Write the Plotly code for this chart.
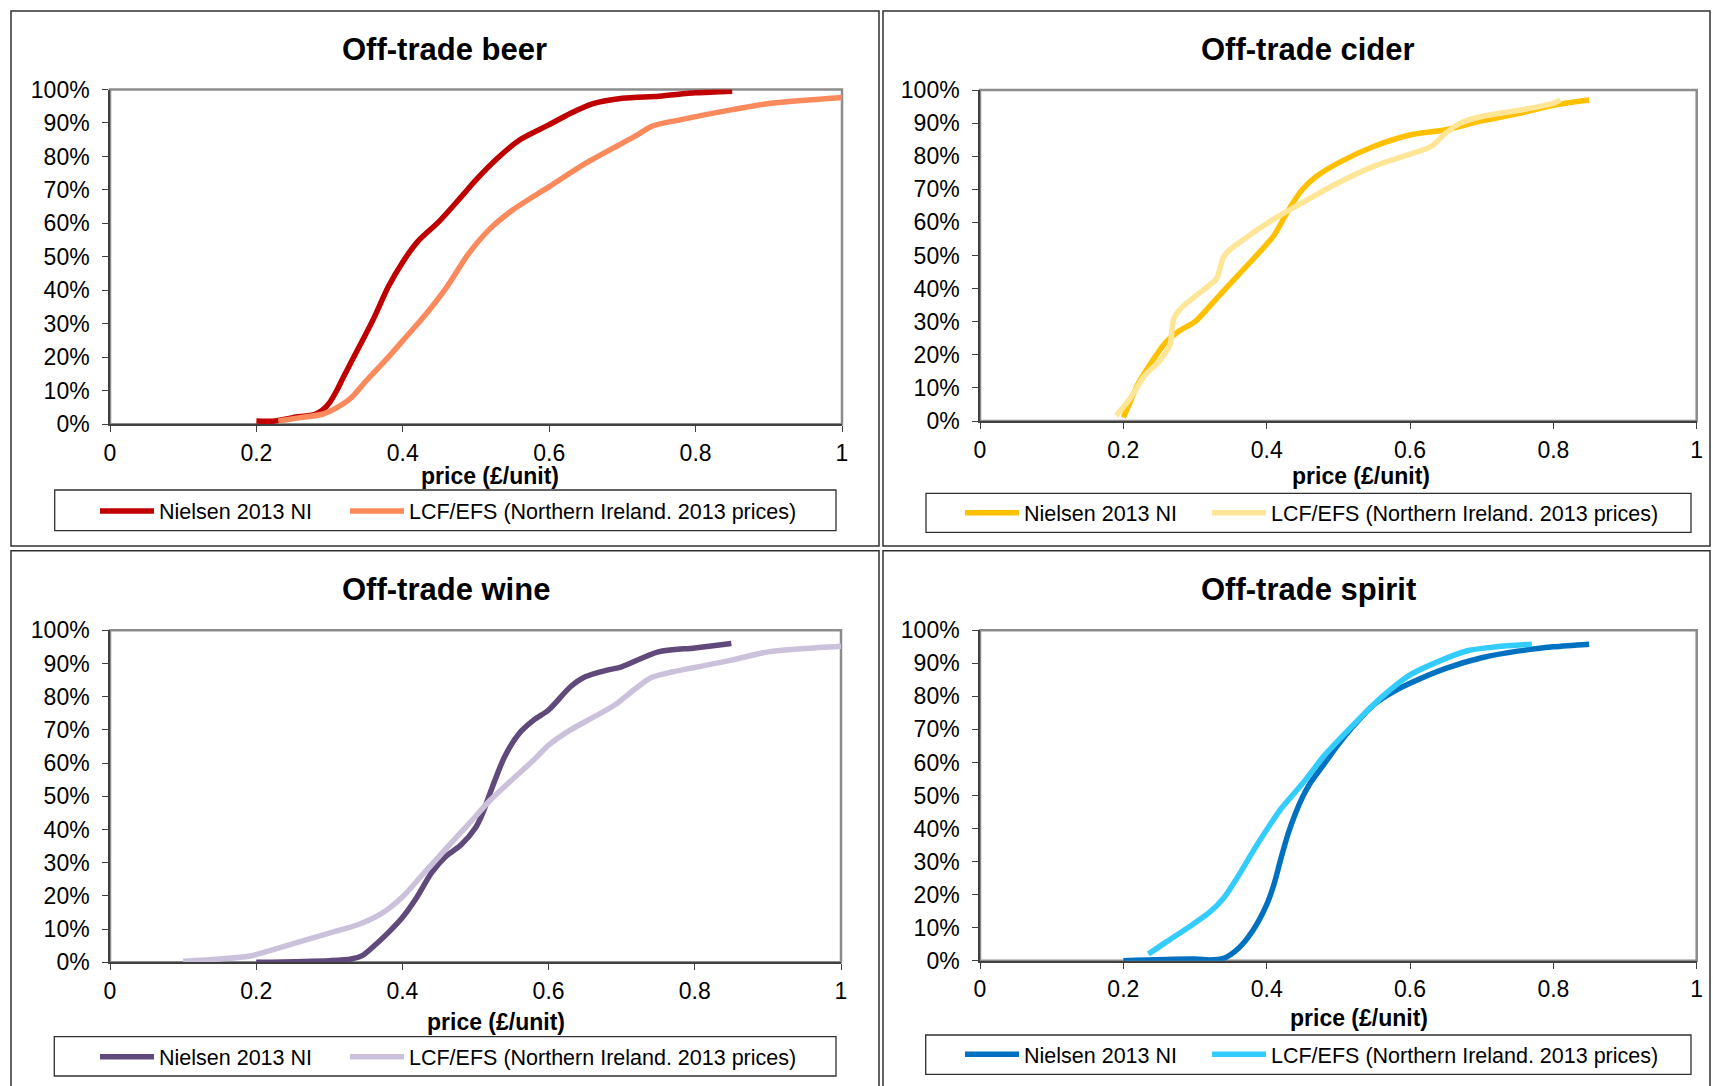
import plotly.graph_objects as go

W, H = 1713, 1086
FONT = "Liberation Sans, Arial, sans-serif"

# ---------------- data ----------------
series_names = ["Nielsen 2013 NI", "LCF/EFS (Northern Ireland. 2013 prices)"]
panel_titles = ["Off-trade beer", "Off-trade cider", "Off-trade wine", "Off-trade spirit"]
x_tick_vals = [0, 0.2, 0.4, 0.6, 0.8, 1]
x_tick_text = ["0", "0.2", "0.4", "0.6", "0.8", "1"]
x_axis_title = "price (£/unit)"

beer_nielsen_x = [0.20, 0.225, 0.25, 0.28, 0.29, 0.30, 0.31, 0.32, 0.34, 0.36, 0.38, 0.40, 0.42, 0.45, 0.48, 0.50, 0.53, 0.56, 0.60, 0.63, 0.66, 0.70, 0.75, 0.80, 0.85]
beer_nielsen_y = [1, 1, 2, 3, 4.2, 6.5, 10.2, 14.6, 23, 31.5, 41, 48.5, 54.5, 60.7, 68, 73, 79.6, 85, 89.5, 93, 95.8, 97.4, 98, 99, 99.5]
beer_lcf_x = [0.23, 0.26, 0.29, 0.31, 0.33, 0.35, 0.38, 0.40, 0.43, 0.46, 0.49, 0.52, 0.55, 0.60, 0.65, 0.70, 0.72, 0.74, 0.78, 0.85, 0.90, 1.0]
beer_lcf_y = [1, 2, 3, 5, 8, 13, 20, 25, 32.5, 41, 51, 58.6, 64, 71, 78, 84, 86.4, 89, 91, 94, 95.8, 97.6]

cider_nielsen_x = [0.20, 0.21, 0.22, 0.24, 0.26, 0.28, 0.30, 0.33, 0.36, 0.39, 0.41, 0.43, 0.45, 0.47, 0.50, 0.55, 0.60, 0.65, 0.70, 0.75, 0.80, 0.85]
cider_nielsen_y = [1, 6, 11, 18, 24, 27.5, 30, 37, 44, 51, 56, 63.6, 70, 74, 78, 83, 86.4, 88, 90.7, 92.8, 95.4, 97]
cider_lcf_x = [0.19, 0.21, 0.23, 0.25, 0.265, 0.27, 0.28, 0.30, 0.32, 0.33, 0.34, 0.35, 0.38, 0.41, 0.45, 0.50, 0.55, 0.60, 0.63, 0.65, 0.67, 0.70, 0.75, 0.80, 0.81]
cider_lcf_y = [1.6, 7, 13.8, 18, 23, 30.7, 34, 37.6, 41, 43, 49.6, 52, 56.7, 61, 66, 72, 77, 80.6, 83, 87, 90, 92, 93.8, 96, 97]

wine_nielsen_x = [0.20, 0.30, 0.33, 0.345, 0.36, 0.38, 0.40, 0.42, 0.44, 0.46, 0.48, 0.50, 0.51, 0.52, 0.54, 0.56, 0.58, 0.60, 0.63, 0.65, 0.68, 0.70, 0.75, 0.80, 0.85]
wine_nielsen_y = [0, 0.5, 1, 2, 4.7, 8.8, 13.5, 19.7, 27, 32, 35.3, 40.5, 45, 51, 62, 69, 73, 76, 83, 86, 88, 89, 93.5, 94.7, 96]
wine_lcf_x = [0.10, 0.15, 0.19, 0.22, 0.26, 0.30, 0.34, 0.37, 0.40, 0.43, 0.46, 0.49, 0.52, 0.55, 0.58, 0.60, 0.63, 0.66, 0.69, 0.72, 0.74, 0.77, 0.80, 0.85, 0.90, 0.95, 1.0]
wine_lcf_y = [0.3, 1, 1.8, 3.6, 6.2, 8.8, 11.4, 14.5, 19.7, 27, 34.3, 41.5, 48.8, 55, 61, 65.4, 70, 73.7, 77.4, 82.6, 85.7, 87.5, 88.8, 91, 93.5, 94.5, 95.2]

spirit_nielsen_x = [0.20, 0.30, 0.32, 0.34, 0.36, 0.38, 0.40, 0.41, 0.42, 0.43, 0.44, 0.45, 0.46, 0.48, 0.50, 0.52, 0.55, 0.58, 0.60, 0.65, 0.70, 0.75, 0.80, 0.85]
spirit_nielsen_y = [0, 0.5, 0.2, 0.7, 3.6, 8.9, 17, 23, 31, 38.5, 44.5, 49.5, 53.5, 59.5, 65.5, 70.8, 77.6, 81.8, 84, 88.5, 91.7, 93.7, 95, 95.8]
spirit_lcf_x = [0.235, 0.26, 0.29, 0.32, 0.34, 0.36, 0.38, 0.40, 0.42, 0.45, 0.48, 0.50, 0.53, 0.56, 0.60, 0.64, 0.68, 0.72, 0.77]
spirit_lcf_y = [2, 5.7, 10, 14.6, 19, 25.5, 32.8, 39.6, 46, 53.6, 62, 66.7, 73.4, 79.7, 86.5, 90.6, 93.8, 95, 95.8]

panel_data = [
    ((beer_nielsen_x, beer_nielsen_y), (beer_lcf_x, beer_lcf_y)),
    ((cider_nielsen_x, cider_nielsen_y), (cider_lcf_x, cider_lcf_y)),
    ((wine_nielsen_x, wine_nielsen_y), (wine_lcf_x, wine_lcf_y)),
    ((spirit_nielsen_x, spirit_nielsen_y), (spirit_lcf_x, spirit_lcf_y)),
]
panel_colors = [
    ("#C00000", "#FA8A5C"),
    ("#FFC000", "#FFE596"),
    ("#604A7B", "#CCC1DA"),
    ("#0070C0", "#33CCFF"),
]

# ---------------- layout geometry (page pixels) ----------------
def px(x):
    return x / W

def py(y):
    return 1 - y / H

# plot areas: (left, right, top, bottom)
plot_boxes = [
    (110, 842, 89.5, 424.3),
    (980, 1696.7, 90, 421),
    (110, 841, 630.3, 962.3),
    (980, 1696.7, 630.3, 960.7),
]
panel_boxes = [
    (11, 879, 11, 546),
    (883, 1710, 11, 546),
    (11, 879, 550.7, 1092),
    (883, 1710, 550.7, 1092),
]
legend_boxes = [
    (54.7, 836, 490, 530.7),
    (926, 1691, 493.3, 532.3),
    (54.3, 836, 1036.7, 1076),
    (925.7, 1691, 1035, 1074.3),
]
legend_item = [  # (first sample line start x, centre y, first entry width)
    (100, 511, 181),
    (965, 512.7, 178),
    (100, 1056.7, 181),
    (965, 1054.3, 178),
]
title_pos = [(444.5, 50), (1308, 50), (446, 590), (1308, 590)]
xtitle_pos = [(490, 476), (1361, 476), (496, 1022), (1359, 1018)]

fig = go.Figure()
layout = dict(
    width=W, height=H,
    margin=dict(l=0, r=0, t=0, b=0, autoexpand=False),
    paper_bgcolor="white", plot_bgcolor="white",
    font=dict(family=FONT, color="black"),
    showlegend=True,
)
shapes = []
annotations = []

for i in range(4):
    sfx = "" if i == 0 else str(i + 1)
    l, r, t, b = plot_boxes[i]
    xa = dict(
        domain=[px(l), px(r)], range=[0, 1], anchor="y" + sfx,
        tickvals=x_tick_vals, ticktext=x_tick_text,
        showgrid=False, zeroline=False, automargin=False,
        showline=True, linecolor="#404040", linewidth=2,
        ticks="outside", ticklen=6, tickwidth=1.3, tickcolor="#404040",
        tickfont=dict(family=FONT, size=23, color="black"),
        ticklabelstandoff=1,
    )
    ya = dict(
        domain=[py(b), py(t)], range=[0, 1], anchor="x" + sfx,
        tickvals=[k / 10 for k in range(11)], tickformat=".0%",
        showgrid=False, zeroline=False, automargin=False,
        showline=True, linecolor="#404040", linewidth=1.5,
        ticks="outside", ticklen=6, tickwidth=1.3, tickcolor="#404040",
        tickfont=dict(family=FONT, size=23, color="black"),
        ticklabelstandoff=8,
    )
    layout["xaxis" + sfx] = xa
    layout["yaxis" + sfx] = ya

    # plot area border (gray)
    shapes.append(dict(type="rect", xref="paper", yref="paper",
                       x0=px(l), x1=px(r), y0=py(b), y1=py(t),
                       line=dict(color="#8C8C8C", width=2.5), layer="below"))
    # panel frame
    pl, pr, pt, pb = panel_boxes[i]
    shapes.append(dict(type="rect", xref="paper", yref="paper",
                       x0=px(pl), x1=px(pr), y0=py(pb), y1=py(pt),
                       line=dict(color="#303030", width=1.5), layer="below"))
    # legend frame
    ll, lr, lt, lb = legend_boxes[i]
    shapes.append(dict(type="rect", xref="paper", yref="paper",
                       x0=px(ll), x1=px(lr), y0=py(lb), y1=py(lt),
                       line=dict(color="#303030", width=1.3), layer="below"))

    tx, ty = title_pos[i]
    annotations.append(dict(text="<b>" + panel_titles[i] + "</b>", x=px(tx), y=py(ty),
                            xref="paper", yref="paper", showarrow=False,
                            xanchor="center", yanchor="middle",
                            font=dict(family=FONT, size=31, color="black")))
    ax_, ay_ = xtitle_pos[i]
    annotations.append(dict(text="<b>" + x_axis_title + "</b>", x=px(ax_), y=py(ay_),
                            xref="paper", yref="paper", showarrow=False,
                            xanchor="center", yanchor="middle",
                            font=dict(family=FONT, size=23, color="black")))

    lg = "legend" + sfx
    sx, sy, ew = legend_item[i]
    layout[lg] = dict(
        orientation="h", x=px(sx - 5), y=py(sy), xanchor="left", yanchor="middle",
        bgcolor="rgba(0,0,0,0)", borderwidth=0, itemwidth=54,
        font=dict(family=FONT, size=21.5, color="black"),
        traceorder="normal",
    )

    for j in range(2):
        xs, ys = panel_data[i][j]
        fig.add_trace(go.Scatter(
            x=xs, y=[v / 100 for v in ys], mode="lines",
            name=series_names[j],
            line=dict(color=panel_colors[i][j], width=5.5, shape="spline", smoothing=0.8),
            xaxis="x" + sfx, yaxis="y" + sfx,
            legend=lg,
            legendwidth=ew if j == 0 else None,
            hoverinfo="skip",
        ))

layout["shapes"] = shapes
layout["annotations"] = annotations
fig.update_layout(**layout)

fig.write_html(
    "out.html",
    config={"displayModeBar": False},
    post_script="document.body.style.margin='0';document.documentElement.style.overflow='hidden';",
)
